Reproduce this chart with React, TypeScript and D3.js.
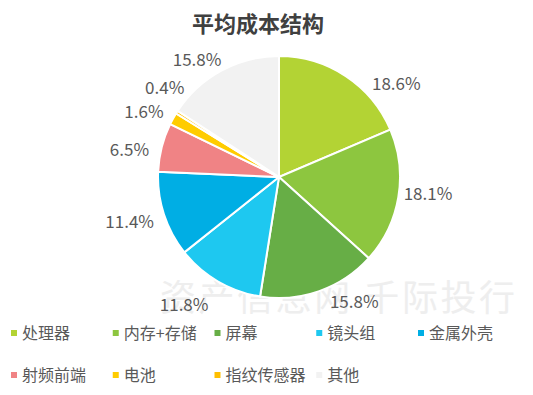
import React from 'react';
import * as d3 from 'd3';

// chart data
const categories = ['处理器', '内存+存储', '屏幕', '镜头组', '金属外壳', '射频前端', '电池', '指纹传感器', '其他'];
const shares = [18.6, 18.1, 15.8, 11.8, 11.4, 6.5, 1.6, 0.4, 15.8];
const colors = ['#b3d334', '#8dc63f', '#67ae46', '#1ec8f0', '#00aee4', '#f08385', '#ffcc00', '#ffbf00', '#f2f2f2'];

// label placement tweaks (degrees, px) to mimic the original's best-fit labels
const labelNudge: [number, number][] = [
  [18, 0], [-3, 0], [-11.6, -4], [6.4, 9], [1.2, 6], [-4, 2], [-3, 0], [5.6, -5], [-6.5, -7],
];

const W = 533;
const H = 395;
const cx = 279;
const cy = 177;
const radius = 121;
const font = '"Noto Sans CJK SC", "Noto Sans", sans-serif';

const App = () => {
  const pie = d3.pie<number>().sort(null).value(d => d).startAngle(0).endAngle(2 * Math.PI);
  const arcs = pie(shares);
  const arc = d3.arc<d3.PieArcDatum<number>>().innerRadius(0).outerRadius(radius);

  const legendX = d3.scaleLinear().domain([0, 4]).range([11, 418]);
  const legendY = d3.scaleLinear().domain([0, 1]).range([333, 375]);

  return (
    <svg width={W} height={H} style={{ position: 'absolute', left: 0, top: 0 }} fontFamily={font}>
      <rect width={W} height={H} fill="#ffffff" />
      <text x={258} y={32} textAnchor="middle" fontSize={22} fontWeight="bold" fill="#404040">
        平均成本结构
      </text>

      {/* watermark */}
      <text x={160} y={311} fontSize={36} fill="#eeeeee" textLength={355} lengthAdjust="spacing">
        资产信息网 千际投行
      </text>

      <g transform={`translate(${cx},${cy})`}>
        {arcs.map((a, i) => (
          <path key={categories[i]} d={arc(a) || ''} fill={colors[i]} stroke="#ffffff" strokeWidth={2} />
        ))}
        {arcs.map((a, i) => {
          const mid = (a.startAngle + a.endAngle) / 2 + (labelNudge[i][0] * Math.PI) / 180;
          const r = 150 + labelNudge[i][1];
          const x = r * Math.sin(mid);
          const y = -r * Math.cos(mid);
          return (
            <text key={'l' + i} x={x} y={y} dy="0.35em" textAnchor="middle" fontSize={17} fill="#595959">
              {shares[i].toFixed(1)}%
            </text>
          );
        })}
      </g>

      <g>
        {categories.map((c, i) => {
          const x = legendX(i % 5);
          const y = legendY(Math.floor(i / 5));
          return (
            <g key={c}>
              <rect x={x} y={y - 3} width={6} height={6} fill={colors[i]} />
              <text x={x + 11} y={y} dy="0.35em" fontSize={16} fill="#595959">
                {c}
              </text>
            </g>
          );
        })}
      </g>
    </svg>
  );
};

export default App;
